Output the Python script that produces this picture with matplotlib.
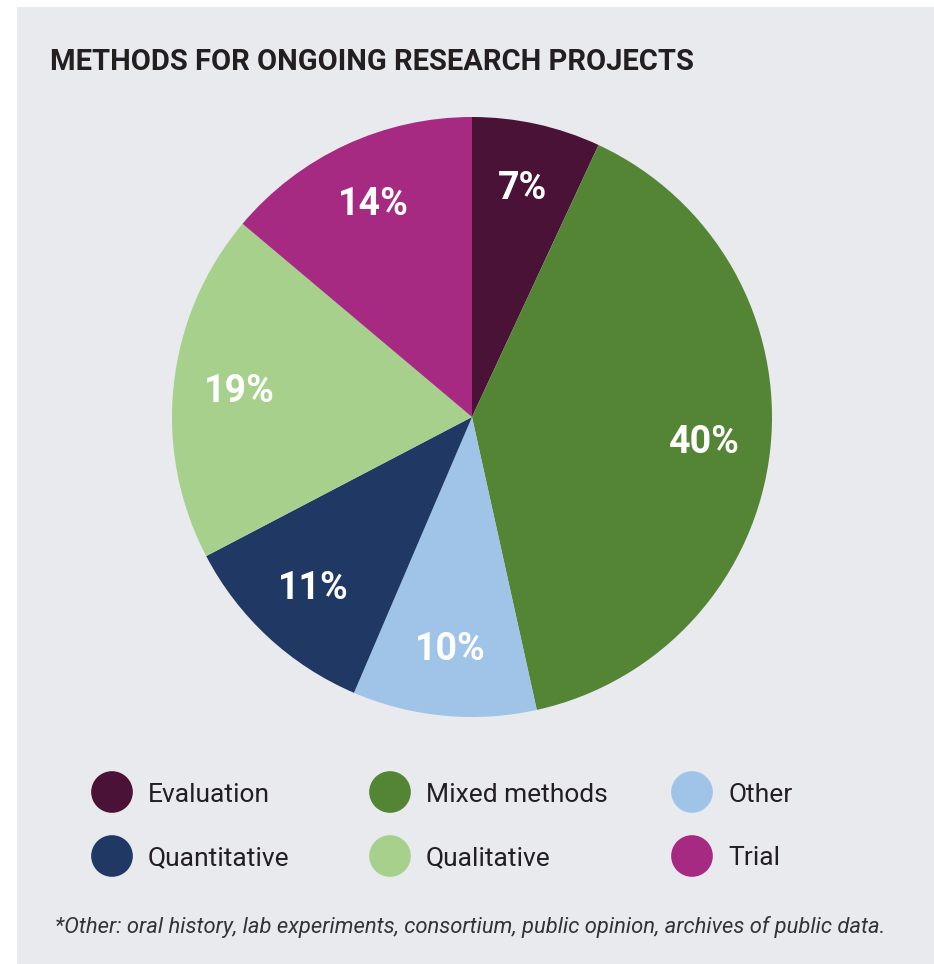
import matplotlib
matplotlib.use('Agg')
import matplotlib.pyplot as plt
from matplotlib.patches import Rectangle

# Data
categories = ['Evaluation', 'Mixed methods', 'Other', 'Quantitative', 'Qualitative', 'Trial']
values = [7, 40, 10, 11, 19, 14]
colors = ['#4a1236', '#538535', '#9fc4e8', '#1f3864', '#a8d08d', '#a62a82']

# legend grid order (row by row)
legend_order = [['Evaluation', 'Mixed methods', 'Other'],
                ['Quantitative', 'Qualitative', 'Trial']]

title = 'METHODS FOR ONGOING RESEARCH PROJECTS'
footnote = '*Other: oral history, lab experiments, consortium, public opinion, archives of public data.'

W, H = 934, 964
fig = plt.figure(figsize=(W / 100, H / 100), dpi=100)
fig.patch.set_facecolor('white')

# background overlay axes in pixel coordinates
bg = fig.add_axes([0, 0, 1, 1])
bg.set_xlim(0, W)
bg.set_ylim(H, 0)
bg.axis('off')
bg.add_patch(Rectangle((17, 7), W - 17, H - 7, facecolor='#e9eaee', edgecolor='none'))

text_color = '#231f20'
bg.text(50, 62, title, fontsize=21, fontweight='bold', family='Roboto',
        color=text_color, va='center', ha='left')

# pie
cx, cy, r = 472, 417, 300
ax = fig.add_axes([(cx - r) / W, (H - cy - r) / H, 2 * r / W, 2 * r / H])
wedges, texts, autotexts = ax.pie(values, colors=colors, startangle=90, counterclock=False,
                                  autopct=lambda p: f'{p:.0f}%', pctdistance=0.78,
                                  wedgeprops=dict(linewidth=0))
for t in autotexts:
    t.set_color('white')
    t.set_fontsize(27)
    t.set_fontweight('bold')
    t.set_family('Roboto')
ax.set_xlim(-1, 1)
ax.set_ylim(-1, 1)
ax.set_aspect('equal')

# legend
col_x = [112, 390, 692]
dot_y = [792, 856]
label_y = [795, 858]
color_of = dict(zip(categories, colors))
for i, row in enumerate(legend_order):
    for j, name in enumerate(row):
        bg.scatter(col_x[j], dot_y[i], s=30 ** 2, color=color_of[name], edgecolors='none')
        bg.text(col_x[j] + 36, label_y[i], name, fontsize=19, family='Roboto',
                color=text_color, va='center', ha='left')

bg.text(55, 927, footnote, fontsize=15.8, family='Roboto', style='italic',
        color='#333333', va='center', ha='left')

fig.savefig('out.png', dpi=100)
